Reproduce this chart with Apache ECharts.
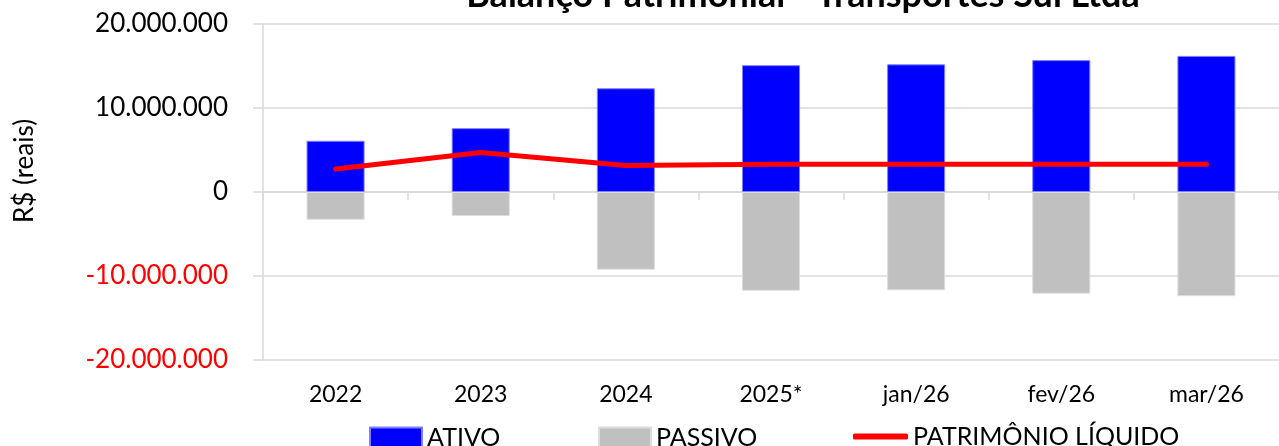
<!DOCTYPE html>
<html>
<head>
<meta charset="utf-8">
<script src="https://cdn.jsdelivr.net/npm/echarts@6/dist/echarts.min.js"></script>
<style>
  html, body { margin: 0; padding: 0; background: #fff; }
  #chart { width: 1279px; height: 446px; }
</style>
</head>
<body>
<div id="chart"></div>
<script>
// dados do gráfico
const periodos = ['2022', '2023', '2024', '2025*', 'jan/26', 'fev/26', 'mar/26'];
const ativo = [6100000, 7600000, 12350000, 15100000, 15200000, 15700000, 16200000];
const passivo = [-3300000, -2850000, -9250000, -11750000, -11700000, -12100000, -12400000];
const patrimonio = [2750000, 4700000, 3150000, 3300000, 3300000, 3300000, 3300000];

const fonte = 'Lato, "Open Sans", sans-serif';
const cinzaLinha = '#D9D9D9';

// 20000000 -> 20.000.000
function formatarReais(v) {
    const s = Math.abs(v).toString().replace(/\B(?=(\d{3})+(?!\d))/g, '.');
    return (v < 0 ? '-' : '') + s;
}

const textoLegenda = { fontFamily: fonte, fontSize: 25, color: '#000', padding: [0, 0, 18, 0] };

const chart = echarts.init(document.getElementById('chart'));

chart.setOption({
    backgroundColor: '#fff',
    animation: false,
    title: {
        text: 'Balanço Patrimonial - Transportes Sul Ltda',
        left: 798,
        textAlign: 'center',
        top: -28,
        textStyle: { fontFamily: fonte, fontSize: 36, fontWeight: 'bold', color: '#000' }
    },
    grid: { left: 263, right: -5, top: 24, bottom: 86 },
    legend: [
        {
            data: ['ATIVO'], left: 369, top: 425, padding: 0, itemWidth: 52, itemHeight: 20, icon: 'rect',
            textStyle: textoLegenda
        },
        {
            data: ['PASSIVO'], left: 598, top: 425, padding: 0, itemWidth: 52, itemHeight: 20, icon: 'rect',
            textStyle: textoLegenda
        },
        {
            data: ['PATRIMÔNIO LÍQUIDO'], left: 853, top: 424, padding: 0, itemWidth: 55, itemHeight: 6, icon: 'roundRect',
            textStyle: Object.assign({}, textoLegenda, { padding: [0, 0, 16, 0] })
        }
    ],
    xAxis: [
        {
            // eixo no zero, só linha e marcas
            type: 'category',
            data: periodos,
            axisLine: { onZero: true, lineStyle: { color: cinzaLinha, width: 1.5 } },
            axisTick: { show: true, length: 8, lineStyle: { color: cinzaLinha, width: 1.5 } },
            axisLabel: { show: false }
        },
        {
            // rótulos embaixo
            type: 'category',
            data: periodos,
            position: 'bottom',
            axisLine: { show: false, onZero: false },
            axisTick: { show: false },
            axisLabel: { margin: 23, fontFamily: fonte, fontSize: 23, color: '#000' }
        }
    ],
    yAxis: {
        type: 'value',
        min: -20000000,
        max: 20000000,
        interval: 10000000,
        name: 'R$ (reais)',
        nameLocation: 'middle',
        nameGap: 225,
        nameTextStyle: { fontFamily: fonte, fontSize: 26, color: '#000', padding: [0, 0, 0, 42] },
        axisLine: { show: true, lineStyle: { color: cinzaLinha, width: 1.5 } },
        axisTick: { show: true, length: 10, lineStyle: { color: cinzaLinha, width: 1.5 } },
        splitLine: { lineStyle: { color: cinzaLinha, width: 1.5 } },
        axisLabel: {
            margin: 35,
            fontFamily: fonte,
            fontSize: 26,
            formatter: formatarReais,
            color: (v) => (Number(v) < 0 ? '#FF0000' : '#000')
        }
    },
    series: [
        {
            name: 'ATIVO',
            type: 'bar',
            stack: 'balanco',
            barWidth: '40%',
            itemStyle: { color: '#0000FF', borderColor: '#8080FF', borderWidth: 1 },
            data: ativo
        },
        {
            name: 'PASSIVO',
            type: 'bar',
            stack: 'balanco',
            barWidth: '40%',
            itemStyle: { color: '#C0C0C0', borderColor: '#DDDDDD', borderWidth: 1 },
            data: passivo
        },
        {
            name: 'PATRIMÔNIO LÍQUIDO',
            type: 'line',
            z: 5,
            symbol: 'none',
            itemStyle: { color: '#FF0000' },
            lineStyle: { color: '#FF0000', width: 5, cap: 'round', join: 'round' },
            data: patrimonio
        }
    ]
});
</script>
</body>
</html>
